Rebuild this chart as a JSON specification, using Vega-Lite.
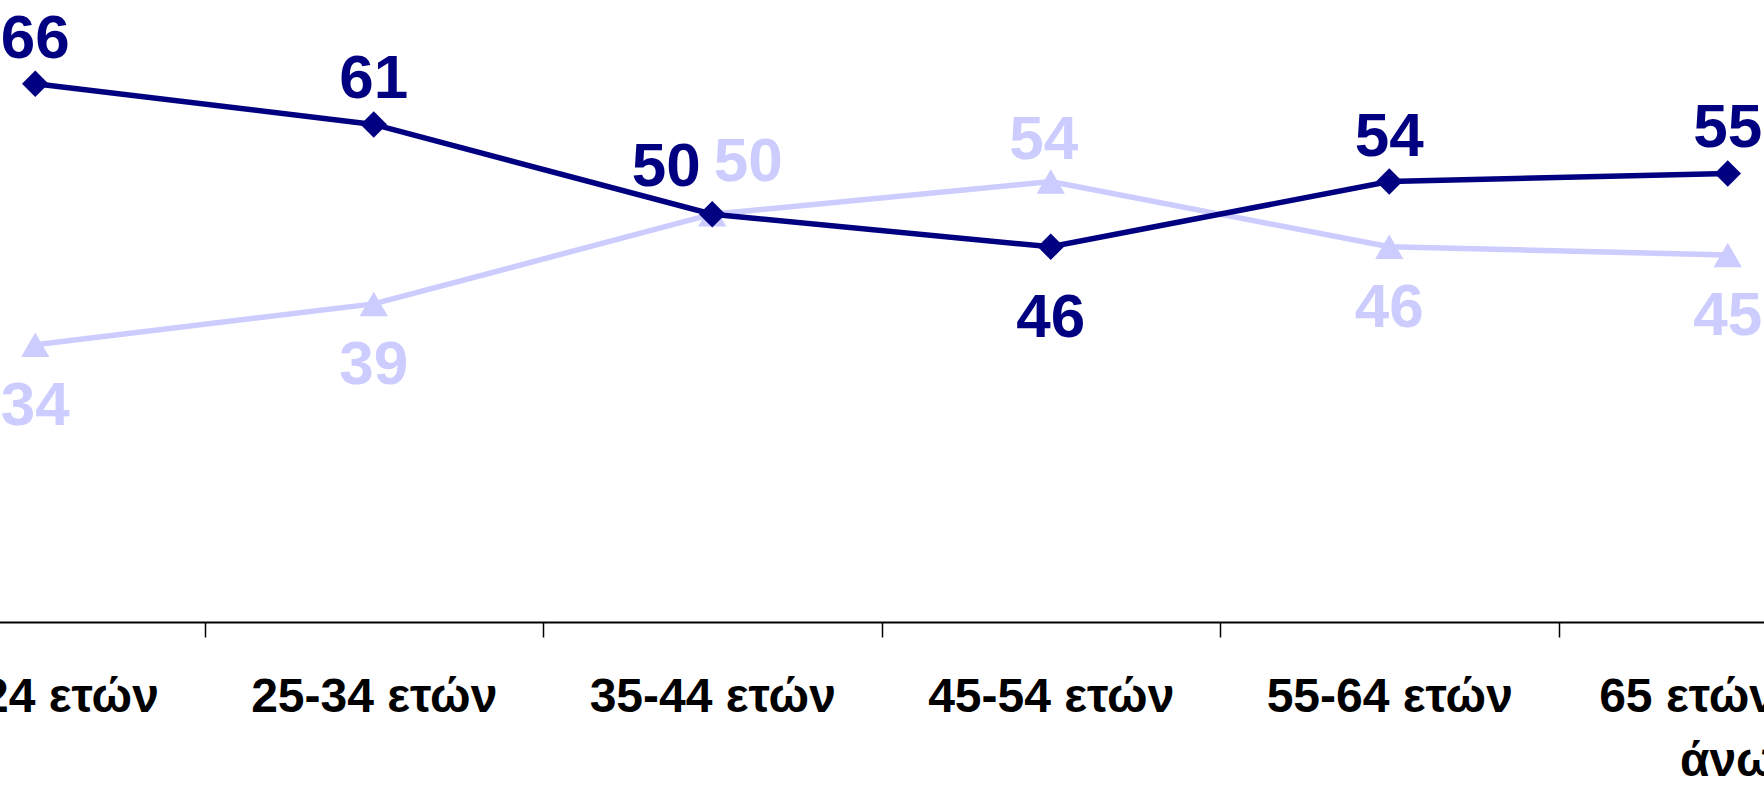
{
  "$schema": "https://vega.github.io/schema/vega-lite/v6.json",
  "width": 1764,
  "height": 622,
  "autosize": {"type": "none"},
  "padding": {"left": 0, "top": 0, "right": 0, "bottom": 163},
  "background": "#ffffff",
  "config": {"view": {"stroke": null}},
  "data": {
    "values": [
      {"age": "18-24 ετών", "series": "A", "value": 66},
      {"age": "25-34 ετών", "series": "A", "value": 61},
      {"age": "35-44 ετών", "series": "A", "value": 50},
      {"age": "45-54 ετών", "series": "A", "value": 46},
      {"age": "55-64 ετών", "series": "A", "value": 54},
      {"age": "65 ετών και άνω", "series": "A", "value": 55},
      {"age": "18-24 ετών", "series": "B", "value": 34},
      {"age": "25-34 ετών", "series": "B", "value": 39},
      {"age": "35-44 ετών", "series": "B", "value": 50},
      {"age": "45-54 ετών", "series": "B", "value": 54},
      {"age": "55-64 ετών", "series": "B", "value": 46},
      {"age": "65 ετών και άνω", "series": "B", "value": 45}
    ]
  },
  "encoding": {
    "x": {
      "field": "age",
      "type": "nominal",
      "sort": null,
      "title": null,
      "scale": {"type": "band", "range": [-134, 1897], "paddingInner": 0, "paddingOuter": 0},
      "axis": {
        "labelAngle": 0,
        "domainColor": "#000000",
        "domainWidth": 2,
        "tickColor": "#000000",
        "tickWidth": 1.5,
        "tickSize": 15,
        "tickBand": "extent",
        "labelFont": "Liberation Sans",
        "labelFontWeight": "bold",
        "labelFontSize": 48,
        "labelColor": "#000000",
        "labelPadding": 36,
        "labelBaseline": "top",
        "labelLineHeight": 64,
        "labelOverlap": false,
        "labelLimit": 0,
        "labelBound": false,
        "labelFlush": false,
        "labelExpr": "datum.label == '65 ετών και άνω' ? ['65 ετών και', 'άνω'] : datum.label"
      }
    },
    "y": {
      "field": "value",
      "type": "quantitative",
      "scale": {"domain": [0, 76.26], "nice": false, "zero": true},
      "axis": null
    }
  },
  "layer": [
    {
      "transform": [{"filter": "datum.series === 'B'"}],
      "mark": {"type": "line", "color": "#CCCCFF", "strokeWidth": 5.5}
    },
    {
      "transform": [{"filter": "datum.series === 'B'"}],
      "mark": {"type": "point", "shape": "triangle-up", "filled": true, "size": 800, "color": "#CCCCFF", "opacity": 1}
    },
    {
      "transform": [{"filter": "datum.series === 'A'"}],
      "mark": {"type": "line", "color": "#000080", "strokeWidth": 5.5}
    },
    {
      "transform": [{"filter": "datum.series === 'A'"}],
      "mark": {"type": "point", "shape": "diamond", "filled": true, "size": 700, "color": "#000080", "opacity": 1}
    },
    {
      "transform": [{"filter": "datum.series === 'A' && datum.age !== '35-44 ετών' && datum.age !== '45-54 ετών'"}],
      "mark": {"type": "text", "font": "Liberation Sans", "fontWeight": "bold", "fontSize": 62, "color": "#000080", "align": "center", "baseline": "alphabetic", "dy": -26},
      "encoding": {"text": {"field": "value", "type": "quantitative"}}
    },
    {
      "transform": [{"filter": "datum.series === 'A' && datum.age === '35-44 ετών'"}],
      "mark": {"type": "text", "font": "Liberation Sans", "fontWeight": "bold", "fontSize": 62, "color": "#000080", "align": "center", "baseline": "alphabetic", "dx": -46, "dy": -28},
      "encoding": {"text": {"field": "value", "type": "quantitative"}}
    },
    {
      "transform": [{"filter": "datum.series === 'A' && datum.age === '45-54 ετών'"}],
      "mark": {"type": "text", "font": "Liberation Sans", "fontWeight": "bold", "fontSize": 62, "color": "#000080", "align": "center", "baseline": "alphabetic", "dy": 90},
      "encoding": {"text": {"field": "value", "type": "quantitative"}}
    },
    {
      "transform": [{"filter": "datum.series === 'B' && datum.age !== '35-44 ετών' && datum.age !== '45-54 ετών'"}],
      "mark": {"type": "text", "font": "Liberation Sans", "fontWeight": "bold", "fontSize": 62, "color": "#CCCCFF", "align": "center", "baseline": "alphabetic", "dy": 80},
      "encoding": {"text": {"field": "value", "type": "quantitative"}}
    },
    {
      "transform": [{"filter": "datum.series === 'B' && datum.age === '35-44 ετών'"}],
      "mark": {"type": "text", "font": "Liberation Sans", "fontWeight": "bold", "fontSize": 62, "color": "#CCCCFF", "align": "center", "baseline": "alphabetic", "dx": 36, "dy": -33},
      "encoding": {"text": {"field": "value", "type": "quantitative"}}
    },
    {
      "transform": [{"filter": "datum.series === 'B' && datum.age === '45-54 ετών'"}],
      "mark": {"type": "text", "font": "Liberation Sans", "fontWeight": "bold", "fontSize": 62, "color": "#CCCCFF", "align": "center", "baseline": "alphabetic", "dx": -7, "dy": -23},
      "encoding": {"text": {"field": "value", "type": "quantitative"}}
    }
  ]
}
